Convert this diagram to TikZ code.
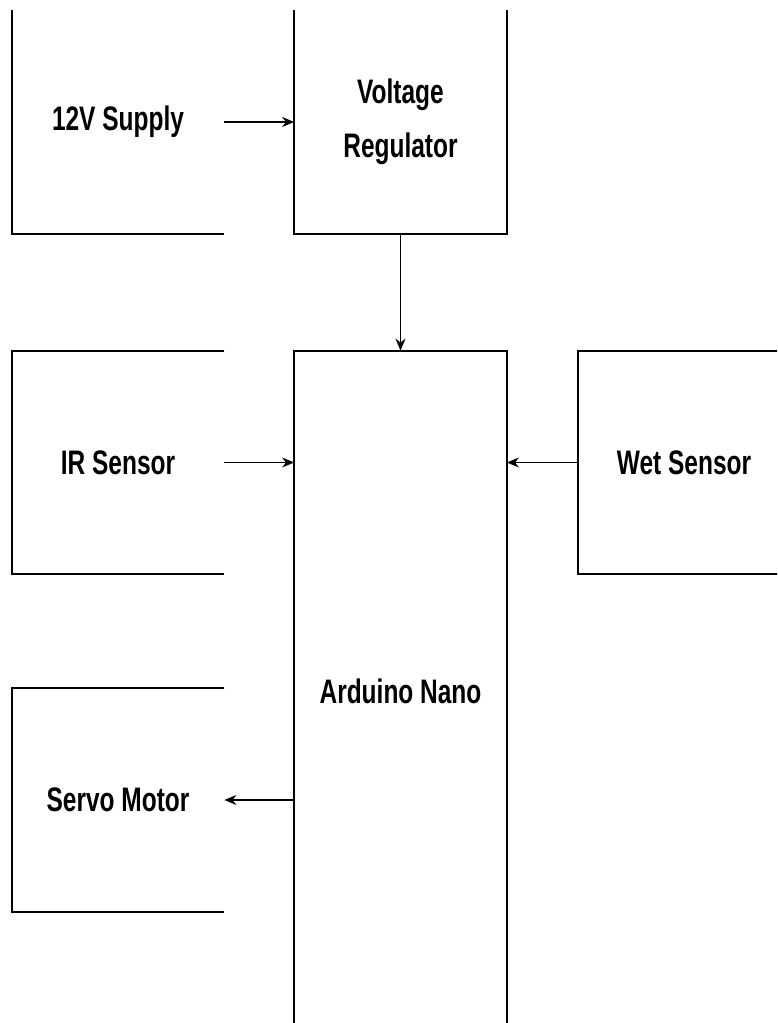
\documentclass[tikz,border=0pt]{standalone}
\usepackage{fontspec}
\setmainfont{Liberation Sans}[FakeStretch=0.72]
\usetikzlibrary{arrows.meta}

\begin{document}
\begin{tikzpicture}[x=0.5pt, y=-0.5pt,
  blk/.style={rectangle,inner sep=0pt,minimum width=106pt,minimum height=111.5pt,align=center,
    font=\bfseries\fontsize{17}{27}\selectfont},
  side/.style={line width=1pt},
  link/.style={line width=0.6pt,-{Stealth[length=6pt,width=5pt]}}]
  \useasboundingbox (0,0) rectangle (777,1023);
  \clip (0,0) rectangle (777,1023);
  \node[blk] (supply) at (118,122) {12V Supply};
  \node[blk] (vreg) at (400.5,122) {Voltage\\Regulator};
  \node[blk,minimum height=340pt] (nano) at (400.5,691) {Arduino Nano};
  \node[blk] (ir) at (118,462.5) {IR Sensor};
  \node[blk] (wet) at (684,462.5) {Wet Sensor};
  \node[blk] (servo) at (118,800) {Servo Motor};
  \draw[side] (supply.north west) -- (supply.south west) -- (supply.south east);
  \draw[side] (vreg.north west) -- (vreg.south west) -- (vreg.south east) -- (vreg.north east);
  \draw[side] (nano.south west) -- (nano.north west) -- (nano.north east) -- (nano.south east);
  \draw[side] (ir.north east) -- (ir.north west) -- (ir.south west) -- (ir.south east);
  \draw[side] (wet.north east) -- (wet.north west) -- (wet.south west) -- (wet.south east);
  \draw[side] (servo.north east) -- (servo.north west) -- (servo.south west) -- (servo.south east);
  \draw[link] (supply.east) -- (vreg.west);
  \draw[link] (vreg.south) -- (nano.north);
  \draw[link] (ir.east) -- (ir.east -| nano.west);
  \draw[link] (wet.west) -- (wet.west -| nano.east);
  \draw[link] (servo.east -| nano.west) -- (servo.east);
\end{tikzpicture}
\end{document}
